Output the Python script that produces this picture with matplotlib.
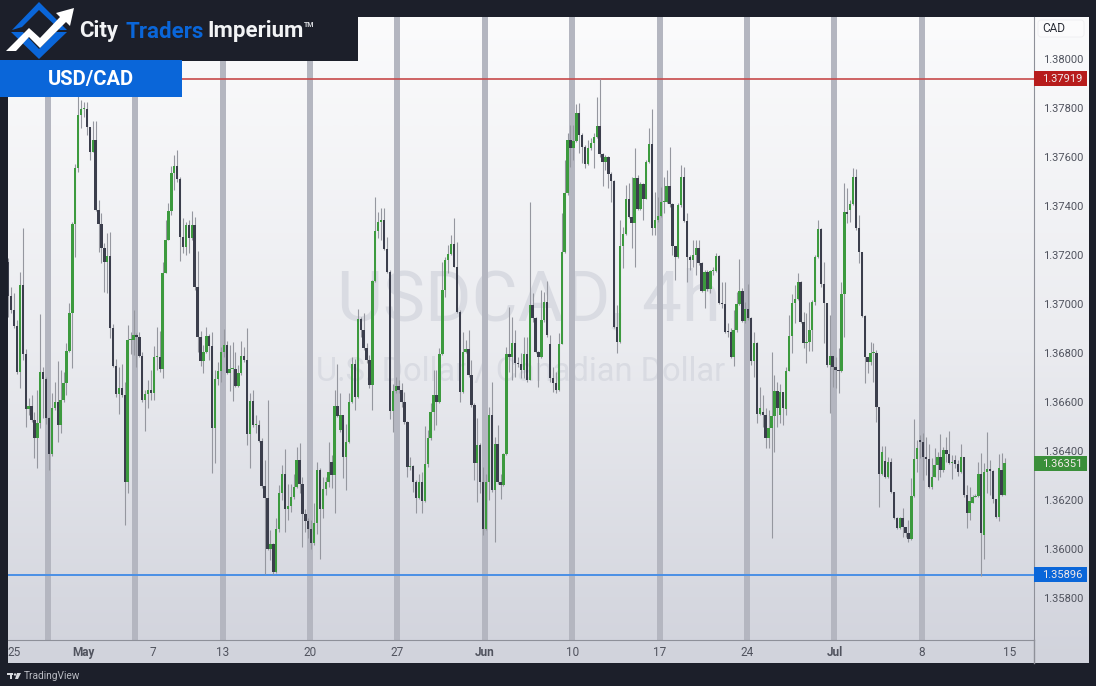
"""USD/CAD 4h candles with weekly separators, TradingView style."""

import numpy as np
import matplotlib
matplotlib.use('Agg')
import matplotlib.pyplot as plt
import matplotlib.patches as mpatches
from matplotlib.colors import LinearSegmentedColormap

# ── Colors ─────────────────────────────────────────────────────────────────
OUTER_BG    = '#1c1f2a'
COLOR_UP    = '#3c9a3e'
COLOR_DOWN  = '#3b3e4c'
COLOR_WICK  = '#95979f'
COLOR_BAND  = '#b4b6c0'
COLOR_AXIS  = '#8e9099'
COLOR_TEXT  = '#50535e'
COLOR_MARK  = '#d9dbe2'
BLUE        = '#0a66d9'

# ── Data: prices are stored in points (1e-5) above 1.30000 ─────────────────
PRICE_BASE = 1.30
POINT = 1e-5
FIRST_OPEN = 7173

closes = [
    7033, 6976, 6911, 6724, 7078, 6796, 6571, 6584, 6527, 6452,
    6516, 6724, 6696, 6534, 6388, 6575, 6599, 6507, 6609, 6679,
    6810, 6962, 7327, 7554, 7772, 7795, 7795, 7721, 7622, 7670,
    7384, 7327, 7227, 7173, 7196, 6901, 6749, 6633, 6659, 6629,
    6275, 6853, 6853, 6874, 6864, 6788, 6609, 6633, 6649, 6636,
    6785, 6785, 6735, 7125, 7261, 7381, 7534, 7564, 7511, 7272,
    7231, 7322, 7268, 7322, 7071, 6864, 6768, 6806, 6870, 6829,
    6493, 6693, 6727, 6806, 6833, 6717, 6734, 6734, 6666, 6717,
    6788, 6774, 6472, 6606, 6506, 6506, 6442, 6258, 6211, 6003,
    6020, 5908, 6081, 6230, 6306, 6166, 6176, 6214, 6252, 6366,
    6268, 6143, 6116, 6081, 6024, 6108, 6323, 6166, 6244, 6275,
    6316, 6305, 6585, 6543, 6547, 6377, 6438, 6602, 6754, 6622,
    6939, 6894, 6822, 6772, 6670, 7094, 7298, 7333, 7341, 7223,
    7129, 6565, 6646, 6667, 6649, 6602, 6520, 6334, 6340, 6275,
    6211, 6275, 6198, 6346, 6452, 6561, 6629, 6599, 6796, 7057,
    7180, 7204, 7244, 7152, 6969, 6642, 6806, 6817, 6710, 6588,
    6353, 6425, 6275, 6082, 6275, 6547, 6241, 6428, 6275, 6262,
    6387, 6796, 6785, 6840, 6761, 6755, 6731, 6796, 6690, 6996,
    6942, 6806, 6785, 6935, 7010, 6874, 6697, 6677, 6649, 6836,
    7211, 7452, 7669, 7638, 7667, 7778, 7690, 7640, 7571, 7635,
    7656, 7680, 7728, 7611, 7578, 7599, 7529, 7502, 6908, 6844,
    7237, 7286, 7427, 7354, 7332, 7513, 7388, 7490, 7427, 7578,
    7653, 7309, 7343, 7359, 7418, 7418, 7483, 7407, 7238, 7191,
    7404, 7517, 7340, 7191, 7180, 7200, 7228, 7166, 7055, 7132,
    7060, 7135, 7135, 7196, 7003, 6999, 6888, 6886, 6783, 6894,
    6999, 7055, 6931, 6980, 6942, 6769, 6843, 6552, 6575, 6548,
    6452, 6493, 6544, 6646, 6578, 6640, 6575, 6728, 6871, 7003,
    7020, 7092, 6926, 6843, 6843, 6894, 7007, 7191, 7306, 7081,
    7006, 6752, 6790, 6742, 6731, 6727, 7040, 7374, 7366, 7407,
    7520, 7312, 7214, 6953, 6786, 6765, 6800, 6802, 6579, 6307,
    6396, 6296, 6358, 6232, 6126, 6086, 6129, 6090, 6068, 6042,
    6218, 6368, 6412, 6439, 6375, 6367, 6256, 6296, 6344, 6378,
    6324, 6405, 6389, 6351, 6351, 6348, 6317, 6375, 6222, 6150,
    6197, 6215, 6218, 6307, 6065, 6314, 6328, 6320, 6204, 6133,
    6330, 6222, 6351,
]
highs = [
    7187, 7071, 7047, 6935, 7132, 7309, 6815, 6615, 6629, 6561,
    6649, 6958, 6745, 6704, 6541, 6636, 6681, 6768, 6731, 6724,
    6840, 7006, 7336, 7570, 7847, 7833, 7826, 7826, 7724, 7745,
    7745, 7425, 7371, 7250, 7289, 7295, 6919, 6775, 6745, 6755,
    6683, 6915, 6887, 6976, 6881, 6887, 6806, 6649, 6690, 6731,
    6829, 6908, 6891, 7173, 7343, 7411, 7564, 7609, 7629, 7520,
    7350, 7336, 7343, 7380, 7356, 7216, 6890, 6833, 6908, 6878,
    6887, 6731, 6765, 6826, 6897, 6850, 6833, 6846, 6806, 6751,
    6850, 6826, 6903, 6636, 6649, 6547, 6527, 6452, 6366, 6608,
    6078, 6024, 6126, 6262, 6343, 6411, 6268, 6268, 6309, 6418,
    6434, 6296, 6166, 6126, 6119, 6187, 6357, 6330, 6296, 6296,
    6438, 6384, 6649, 6755, 6636, 6547, 6513, 6636, 6785, 6778,
    6982, 6948, 6962, 6840, 6792, 7098, 7435, 7377, 7390, 7390,
    7275, 7139, 6676, 6704, 6690, 6679, 6642, 6525, 6377, 6343,
    6282, 6309, 6316, 6502, 6486, 6595, 6731, 6731, 6819, 7173,
    7193, 7241, 7282, 7350, 7254, 6976, 6887, 6853, 6894, 6772,
    6595, 6534, 6432, 6336, 6309, 6581, 6683, 6459, 6506, 6309,
    6391, 6826, 6989, 6948, 6894, 6785, 6799, 6867, 6867, 7415,
    7044, 6949, 6810, 7057, 7051, 7095, 6874, 6745, 6724, 6881,
    7370, 7588, 7697, 7731, 7731, 7815, 7819, 7697, 7649, 7669,
    7676, 7697, 7843, 7917, 7615, 7608, 7604, 7540, 7506, 6996,
    7343, 7316, 7486, 7493, 7520, 7635, 7527, 7499, 7493, 7588,
    7717, 7795, 7459, 7438, 7479, 7520, 7547, 7639, 7411, 7234,
    7411, 7567, 7561, 7370, 7200, 7262, 7262, 7262, 7173, 7139,
    7139, 7139, 7150, 7207, 7200, 7092, 7092, 6922, 6901, 6976,
    7051, 7183, 7064, 7010, 7082, 6949, 6888, 6847, 6663, 6629,
    6575, 6568, 6806, 6711, 6684, 6674, 6643, 6745, 6956, 7040,
    7078, 7126, 7096, 6969, 6962, 7010, 7017, 7200, 7343, 7309,
    7173, 7003, 6956, 6779, 6786, 6820, 7092, 7493, 7472, 7425,
    7554, 7550, 7364, 7214, 6956, 6786, 6847, 6843, 6813, 6582,
    6422, 6422, 6378, 6371, 6235, 6133, 6133, 6167, 6092, 6120,
    6290, 6530, 6446, 6466, 6473, 6460, 6430, 6371, 6412, 6398,
    6470, 6419, 6457, 6484, 6385, 6385, 6364, 6430, 6378, 6262,
    6256, 6222, 6226, 6354, 6392, 6351, 6480, 6364, 6324, 6204,
    6389, 6394, 6371,
]
lows = [
    6949, 6962, 6901, 6715, 6656, 6772, 6500, 6547, 6520, 6371,
    6330, 6493, 6534, 6513, 6323, 6380, 6568, 6436, 6473, 6602,
    6629, 6806, 6738, 7193, 7540, 7717, 7765, 7690, 7588, 7622,
    7381, 7214, 7169, 7051, 7047, 6860, 6745, 6622, 6551, 6622,
    6099, 6228, 6796, 6792, 6745, 6783, 6602, 6483, 6575, 6609,
    6609, 6731, 6724, 6697, 7214, 7261, 7364, 7466, 7500, 7176,
    7207, 7200, 7207, 7261, 7057, 6806, 6747, 6720, 6799, 6772,
    6312, 6353, 6670, 6683, 6785, 6713, 6645, 6606, 6660, 6660,
    6710, 6765, 6425, 6330, 6500, 6475, 6438, 6248, 5898, 5996,
    5956, 5901, 5904, 6071, 6200, 6071, 6119, 6153, 6207, 6248,
    6228, 6010, 6071, 6044, 6003, 6017, 6064, 5962, 6126, 6221,
    6255, 6248, 6146, 6540, 6479, 6289, 6241, 6432, 6595, 6568,
    6615, 6867, 6812, 6758, 6656, 6568, 7091, 7268, 7261, 7220,
    7125, 6530, 6479, 6636, 6636, 6581, 6513, 6296, 6323, 6234,
    6149, 6207, 6149, 6194, 6336, 6445, 6486, 6506, 6595, 6792,
    7030, 7125, 7200, 7150, 6962, 6602, 6636, 6799, 6704, 6581,
    6282, 6194, 6228, 6058, 6078, 6200, 6234, 6030, 6268, 6207,
    6257, 6384, 6724, 6690, 6704, 6744, 6697, 6697, 6683, 6690,
    6928, 6799, 6663, 6779, 6928, 6867, 6683, 6643, 6636, 6647,
    7085, 7207, 7445, 7561, 7588, 7663, 7615, 7574, 7554, 7567,
    7629, 7554, 7676, 7601, 7483, 7547, 7472, 7418, 6901, 6802,
    6840, 7146, 7282, 7350, 7227, 7150, 7384, 7384, 7343, 7459,
    7574, 7282, 7282, 7336, 7357, 7370, 7411, 7397, 7200, 7098,
    7187, 7397, 7336, 7091, 7139, 7153, 7119, 7160, 7051, 6983,
    7055, 7044, 7119, 7132, 6999, 6983, 6881, 6867, 6779, 6748,
    6888, 6996, 6928, 6922, 6935, 6752, 6704, 6514, 6548, 6500,
    6412, 6412, 6044, 6398, 6500, 6514, 6507, 6548, 6728, 6799,
    6922, 7017, 6922, 6820, 6758, 6810, 6810, 6996, 7187, 7071,
    6840, 6745, 6554, 6663, 6656, 6636, 6724, 6867, 7330, 7336,
    7404, 7302, 7166, 6949, 6677, 6718, 6752, 6684, 6521, 6174,
    6303, 6290, 6290, 6228, 6122, 6082, 6082, 6052, 6052, 6028,
    6038, 6215, 6317, 6371, 6283, 6303, 6249, 6245, 6294, 6283,
    6296, 6317, 6358, 6348, 6286, 6330, 6299, 6310, 6215, 6086,
    6120, 6188, 6212, 6212, 5891, 5959, 6228, 6222, 6188, 6126,
    6117, 6218, 6222,
]
# candles whose open does not sit on the previous close: index -> open
gap_opens = {
    111: 6354, 114: 6486, 186: 6837, 259: 6561, 265: 6548, 267: 6571,
    275: 6847, 289: 7384, 301: 6362, 307: 6126, 313: 6446, 325: 6364,
    331: 6188, 335: 6058, 341: 6324,
}

y_ticks = [1.358, 1.360, 1.362, 1.364, 1.366, 1.368, 1.370, 1.372, 1.374, 1.376, 1.378, 1.380]
resistance = 1.37919
support = 1.35896
last_price = 1.36351

week_bands = [13.6, 43.6, 73.6, 103.6, 133.6, 163.6, 193.6, 223.6, 253.6, 283.6, 313.6]
date_ticks = [1.9, 25.9, 49.7, 73.6, 103.6, 133.6, 163.6, 193.6, 223.6, 253.6, 283.6, 313.6, 343.6]
date_labels = ['25', 'May', '7', '13', '20', '27', 'Jun', '10', '17', '24', 'Jul', '8', '15']
bold_dates = ('May', 'Jun', 'Jul')

# ── Page layout in pixels ──────────────────────────────────────────────────
W, H = 1096, 686
PLOT_L, PLOT_R, PLOT_T, PLOT_B = 7.5, 1034, 17, 640
PANEL_R, PANEL_B = 1088.5, 663


def px_box(left, top, right, bottom):
    return [left / W, 1 - bottom / H, (right - left) / W, (bottom - top) / H]


plt.rcParams['font.family'] = ['Roboto', 'DejaVu Sans']

fig = plt.figure(figsize=(W / 100, H / 100), dpi=100, facecolor=OUTER_BG)

# panel gradient
bg = fig.add_axes(px_box(PLOT_L, PLOT_T, PANEL_R, PANEL_B), zorder=0)
cmap = LinearSegmentedColormap.from_list('panel', ['#fbfbfc', '#ebecf0', '#d1d3dc'])
bg.imshow(np.linspace(0, 1, 256)[:, None], aspect='auto', cmap=cmap)
bg.axis('off')

# candle axes
ax = fig.add_axes(px_box(PLOT_L, PLOT_T, PLOT_R, PLOT_B), zorder=1)
ax.patch.set_alpha(0)
ax.set_xlim(-0.25, 352.1)
ax.set_ylim(1.35630, 1.38171)
for spine in ax.spines.values():
    spine.set_visible(False)
ax.spines['bottom'].set_visible(True)
ax.spines['right'].set_visible(True)
ax.spines['bottom'].set_color(COLOR_AXIS)
ax.spines['right'].set_color(COLOR_AXIS)

# watermark
ax.text(0.5075, 0.545, 'USDCAD, 4h', transform=ax.transAxes, ha='center', va='center',
        fontsize=51, color=COLOR_MARK, zorder=1)
ax.text(0.5, 0.43, 'U.S. Dollar / Canadian Dollar', transform=ax.transAxes, ha='center',
        va='center', fontsize=23.5, color=COLOR_MARK, zorder=1)

for pos in week_bands:
    ax.axvspan(pos - 1.03, pos + 1.03, color=COLOR_BAND, lw=0, zorder=2)

ax.axhline(resistance, color='#c8494a', lw=1.2, zorder=3)
ax.axhline(support, color='#4a8fe6', lw=1.4, zorder=3)

# candles
c = np.array(closes, dtype=float)
o = np.r_[FIRST_OPEN, c[:-1]]
for idx, val in gap_opens.items():
    o[idx] = val
hi = np.maximum(np.array(highs, dtype=float), np.maximum(o, c))
lo = np.minimum(np.array(lows, dtype=float), np.minimum(o, c))
o, c, hi, lo = [PRICE_BASE + a * POINT for a in (o, c, hi, lo)]
n = np.arange(len(c))
up = c >= o

ax.vlines(n, lo, hi, color=COLOR_WICK, lw=0.8, zorder=4)
body_h = np.maximum(np.abs(c - o), 4e-5)
ax.bar(n, body_h, bottom=np.minimum(o, c), width=0.82, lw=0,
       color=np.where(up, COLOR_UP, COLOR_DOWN), zorder=5)

# axes ticks
ax.yaxis.tick_right()
ax.set_yticks(y_ticks)
ax.set_yticklabels([f'{t:.5f}' for t in y_ticks], fontsize=8, color=COLOR_TEXT)
ax.set_xticks(date_ticks)
ax.set_xticklabels(date_labels, fontsize=8.5, color=COLOR_TEXT)
for lab in ax.get_xticklabels():
    if lab.get_text() in bold_dates:
        lab.set_fontweight('bold')
ax.tick_params(axis='x', length=0, pad=4.5)
ax.tick_params(axis='y', length=0, pad=6.5)

# overlay in pixel coordinates
ov = fig.add_axes([0, 0, 1, 1], zorder=3)
ov.set_xlim(0, W)
ov.set_ylim(H, 0)
ov.axis('off')

# right axis line runs down through the time scale
ov.plot([PLOT_R, PLOT_R], [PLOT_B, PANEL_B], color=COLOR_AXIS, lw=1)

# price tags
for price, color in ((resistance, '#b71c1c'), (last_price, '#3a8f3a'), (support, BLUE)):
    yp = PLOT_T + (1.38171 - price) / (1.38171 - 1.35630) * (PLOT_B - PLOT_T)
    ov.add_patch(mpatches.Rectangle((PLOT_R, yp - 7.5), 52.5, 15, fc=color, ec='none'))
    ov.text(1062, yp + 0.3, f'{price:.5f}', ha='center', va='center', fontsize=8,
            color='#f2e9e9')

# currency box
ov.add_patch(mpatches.FancyBboxPatch((1038, 20), 46, 17, boxstyle='round,pad=0,rounding_size=3',
                                     fc='#fbfbfc', ec='#eeeef1', lw=0.6))
ov.text(1053.5, 28.5, 'CAD', ha='center', va='center', fontsize=8.5, color='#2c2f38')

# header
ov.add_patch(mpatches.Rectangle((0, 0), 358, 61, fc=OUTER_BG, ec='none'))
ov.add_patch(mpatches.Rectangle((0, 60), 182, 37, fc=BLUE, ec='none'))
ov.text(91, 79, 'USD/CAD', ha='center', va='center', fontsize=14.5, fontweight='bold', color='white')

# logo
ov.add_patch(mpatches.Polygon([(39, 2), (67, 30), (60, 30), (39, 10), (22, 27), (12, 30)],
                              closed=True, fc=BLUE, ec='none'))
ov.add_patch(mpatches.Polygon([(39, 59), (11, 32), (23, 32), (39, 49), (56, 32), (67, 32)],
                              closed=True, fc=BLUE, ec='none'))
ov.add_patch(mpatches.Polygon(
    [(6, 51), (29, 28), (40, 38), (60, 17), (56, 13), (74, 8), (70, 26), (66, 22), (40, 48),
     (29, 37), (16, 51)],
    closed=True, fc='white', ec='none'))

header_font = dict(va='center', fontsize=16, fontweight='bold', family='Roboto')
ov.text(79, 31.5, 'City', color='#f2f3f5', **header_font)
ov.text(125, 31.5, 'Traders', color=BLUE, **header_font)
ov.text(207, 31.5, 'Imperium', color='#f2f3f5', **header_font)
ov.text(304, 25, 'TM', va='center', fontsize=5, fontweight='bold', color='#d8dade')

# footer
ov.add_patch(mpatches.Rectangle((7, 673), 6, 2, fc='#d9dbe0', ec='none'))
ov.add_patch(mpatches.Rectangle((9.5, 673), 2, 6, fc='#d9dbe0', ec='none'))
ov.add_patch(mpatches.Circle((15, 674.5), 1.2, fc='#d9dbe0', ec='none'))
ov.add_patch(mpatches.Polygon([(17, 673), (21, 673), (18, 679), (15, 679)], closed=True,
                              fc='#d9dbe0', ec='none'))
ov.text(24, 676, 'TradingView', va='center', fontsize=7.3, color='#b9bbc2')

fig.savefig('out.png', dpi=100, facecolor=OUTER_BG)
